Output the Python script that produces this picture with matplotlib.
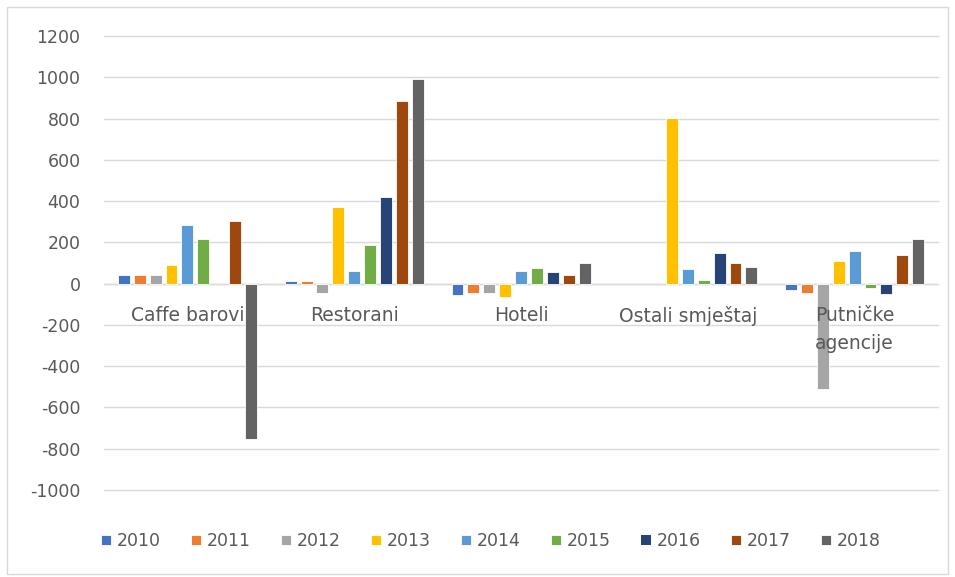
import matplotlib
matplotlib.use("Agg")
import matplotlib.pyplot as plt
import numpy as np
from matplotlib.patches import Rectangle

categories = ["Caffe barovi", "Restorani", "Hoteli", "Ostali smještaj", "Putničke\nagencije"]
years = ["2010", "2011", "2012", "2013", "2014", "2015", "2016", "2017", "2018"]
v2010 = [40, 14, -56, 0, -33]
v2011 = [40, 14, -46, 0, -44]
v2012 = [40, -45, -46, 0, -510]
v2013 = [89, 373, -65, 805, 111]
v2014 = [284, 63, 60, 69, 160]
v2015 = [215, 187, 78, 20, -23]
v2016 = [0, 421, 58, 148, -52]
v2017 = [304, 886, 41, 99, 140]
v2018 = [-752, 993, 99, 80, 216]
series = [v2010, v2011, v2012, v2013, v2014, v2015, v2016, v2017, v2018]
colors = ["#4472C4", "#ED7D31", "#A5A5A5", "#FFC000", "#5B9BD5",
          "#70AD47", "#264478", "#9E480E", "#636363"]
yticks = [-1000, -800, -600, -400, -200, 0, 200, 400, 600, 800, 1000, 1200]

plt.rcParams['font.family'] = ['DejaVu Sans']
fig = plt.figure(figsize=(9.55, 5.77), dpi=100)
ax = fig.add_axes([104/955, 1-490/577, (938-104)/955, (490-36)/577])

x = np.arange(len(categories))
step = 16/168
width = 12/168
for j, (vals, col, yr) in enumerate(zip(series, colors, years)):
    lws = [0.6 if v != 0 else 0 for v in vals]
    ax.bar(x + (j-4)*step, vals, width=width, color=col, label=yr,
           edgecolor='white', linewidth=lws, zorder=3)

ax.set_xlim(-0.5, len(categories)-0.5)
ax.set_ylim(-1000, 1200)
ax.set_yticks(yticks)
ax.set_yticklabels([str(t) for t in yticks], fontsize=12.5, color='#595959')
ax.tick_params(axis='y', length=0, pad=17)
ax.set_xticks([])
ax.grid(axis='y', color='#D9D9D9', linewidth=1, zorder=0)
for gl in ax.get_ygridlines():
    gl.set_clip_on(False)
for s in ax.spines.values():
    s.set_visible(False)
ax.axhline(0, color='#D9D9D9', linewidth=1, zorder=2)

for i, c in enumerate(categories):
    ax.annotate(c, xy=(x[i], 0), xytext=(0, -16), textcoords='offset points',
                ha='center', va='top', fontsize=13.5, color='#595959',
                linespacing=1.6, zorder=4)

leg = fig.legend(loc='center', bbox_to_anchor=(491/955, 1-541/577), ncol=9,
                 frameon=False, fontsize=12.5, handlelength=0.55, handleheight=0.55,
                 handletextpad=0.35, columnspacing=1.75)
for t in leg.get_texts():
    t.set_color('#595959')

fig.patches.append(Rectangle((7/955, 3/577), 1-14/955, 1-10/577, transform=fig.transFigure,
                             fill=False, edgecolor='#D9D9D9', linewidth=1))

fig.savefig("out.png", dpi=100)
